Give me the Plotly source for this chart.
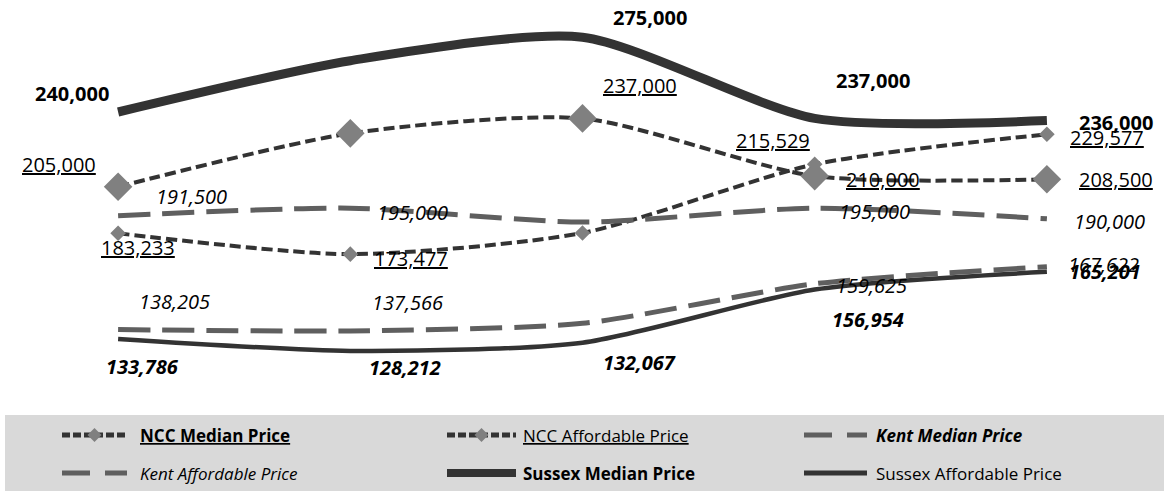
import plotly.graph_objects as go

# Five periods along the x axis (no tick labels are shown)
periods = [0, 1, 2, 3, 4]

series_names = [
    "NCC Median Price",
    "NCC Affordable Price",
    "Kent Median Price",
    "Kent Affordable Price",
    "Sussex Median Price",
    "Sussex Affordable Price",
]

ncc_median = [205000, 230000, 237000, 210000, 208500]
ncc_affordable = [183233, 173477, 183400, 215529, 229577]
kent_median = [191500, 195000, 188500, 195000, 190000]
kent_affordable = [138205, 137566, 141100, 159625, 167622]
sussex_median = [240000, 264000, 275000, 237000, 236000]
sussex_affordable = [133786, 128212, 132067, 156954, 165201]

# Which points carry a value label
ncc_median_shown = [True, False, True, True, True]
ncc_affordable_shown = [True, True, False, True, True]
kent_median_shown = [True, True, False, True, True]
kent_affordable_shown = [True, True, False, True, True]
sussex_median_shown = [True, False, True, True, True]
sussex_affordable_shown = [True, True, True, True, True]

# Pixel offsets of each value label from its point (dx right, dy up)
ncc_median_off = [(-59, 22), None, (57, 33), (68, -3), (69, 0)]
ncc_affordable_off = [(20, -14), (61, -4), None, (-42, 24), (60, -3)]
kent_median_off = [(73, 19), (62, -4), None, (60, -3), (63, -3)]
kent_affordable_off = [(56, 28), (57, 28), None, (57, -2), (57, 2)]
sussex_median_off = [(-46, 19), None, (67, 20), (58, 38), (69, -2)]
sussex_affordable_off = [(24, -28), (55, -17), (57, -20), (53, -30), (58, 0)]

FONT = "Open Sans"
DARK = "#333333"
GREY = "#5f5f5f"
MARK = "#808080"

fig = go.Figure()

styles = [
    dict(y=ncc_median, line=dict(color=DARK, width=4, dash="11px,5px"),
         marker=dict(symbol="diamond", size=22, color=MARK), mode="lines+markers"),
    dict(y=ncc_affordable, line=dict(color=DARK, width=4, dash="11px,5px"),
         marker=dict(symbol="diamond", size=12, color=MARK), mode="lines+markers"),
    dict(y=kent_median, line=dict(color=GREY, width=5, dash="32px,12px"), mode="lines"),
    dict(y=kent_affordable, line=dict(color=GREY, width=5, dash="32px,12px"), mode="lines"),
    dict(y=sussex_median, line=dict(color=DARK, width=9), mode="lines"),
    dict(y=sussex_affordable, line=dict(color=DARK, width=4.5), mode="lines"),
]

for name, st in zip(series_names, styles):
    line = dict(st["line"])
    line["shape"] = "spline"
    line["smoothing"] = 0.7
    kw = dict(x=periods, y=st["y"], name=name, mode=st["mode"], line=line,
              showlegend=False, hoverinfo="skip")
    if "marker" in st:
        kw["marker"] = st["marker"]
    fig.add_trace(go.Scatter(**kw))

# Value labels
label_sets = [
    (ncc_median, ncc_median_shown, ncc_median_off, "<u>{}</u>"),
    (ncc_affordable, ncc_affordable_shown, ncc_affordable_off, "<u>{}</u>"),
    (kent_median, kent_median_shown, kent_median_off, "<i>{}</i>"),
    (kent_affordable, kent_affordable_shown, kent_affordable_off, "<i>{}</i>"),
    (sussex_median, sussex_median_shown, sussex_median_off, "<b>{}</b>"),
    (sussex_affordable, sussex_affordable_shown, sussex_affordable_off, "<b><i>{}</i></b>"),
]

annotations = []
for values, shown, offs, fmt in label_sets:
    for xi, v, s, off in zip(periods, values, shown, offs):
        if not s:
            continue
        annotations.append(dict(
            x=xi, y=v, xref="x", yref="y", showarrow=False,
            text=fmt.format(f"{v:,}"), xshift=off[0], yshift=off[1],
            font=dict(family=FONT, size=20, color="#000000"),
            xanchor="center", yanchor="middle"))

# Plot area geometry in pixels (for placing the legend box)
PL, PW, PT, PH = 2, 1161, 0, 380


def px_x(px):
    return (px - PL) / PW


def px_y(py):
    return (PT + PH - py) / PH


shapes = [dict(type="rect", xref="paper", yref="paper",
               x0=px_x(5), x1=px_x(1170), y0=px_y(415), y1=px_y(495),
               fillcolor="#d9d9d9", line=dict(width=0), layer="below")]

legend_cols = [(62, 127, 138), (447, 516, 521), (804, 867, 874)]
legend_rows = [435, 473]
legend_text = [
    "<b><u>NCC Median Price</u></b>",
    "<u>NCC Affordable Price</u>",
    "<b><i>Kent Median Price</i></b>",
    "<i>Kent Affordable Price</i>",
    "<b>Sussex Median Price</b>",
    "Sussex Affordable Price",
]
legend_line = [
    dict(color=DARK, width=5, dash="8px,3px"),
    dict(color=DARK, width=5, dash="8px,3px"),
    dict(color=GREY, width=5, dash="28px,15px"),
    dict(color=GREY, width=5, dash="28px,15px"),
    dict(color=DARK, width=8),
    dict(color=DARK, width=5),
]

for k in range(6):
    r, c = divmod(k, 3)
    x0, x1, tx = legend_cols[c]
    yy = legend_rows[r]
    shapes.append(dict(type="line", xref="paper", yref="paper",
                       x0=px_x(x0), x1=px_x(x1), y0=px_y(yy), y1=px_y(yy),
                       line=legend_line[k]))
    if k < 2:
        shapes.append(dict(type="path", xref="paper", yref="paper",
                           xsizemode="pixel", ysizemode="pixel",
                           xanchor=px_x((x0 + x1) / 2), yanchor=px_y(yy),
                           path="M-7,0L0,7L7,0L0,-7Z",
                           fillcolor=MARK, line=dict(width=0)))
    annotations.append(dict(x=px_x(tx), y=px_y(yy), xref="paper", yref="paper",
                            showarrow=False, text=legend_text[k],
                            xanchor="left", yanchor="middle",
                            font=dict(family=FONT, size=17, color="#000000")))

fig.update_layout(
    width=1164, height=491,
    margin=dict(l=PL, r=1164 - PL - PW, t=PT, b=491 - PT - PH, pad=0),
    paper_bgcolor="#ffffff", plot_bgcolor="#ffffff",
    xaxis=dict(range=[-0.5, 4.5], visible=False, showgrid=False, zeroline=False),
    yaxis=dict(range=[114590, 292410], visible=False, showgrid=False, zeroline=False),
    shapes=shapes, annotations=annotations, showlegend=False,
)

fig.write_html("out.html")
